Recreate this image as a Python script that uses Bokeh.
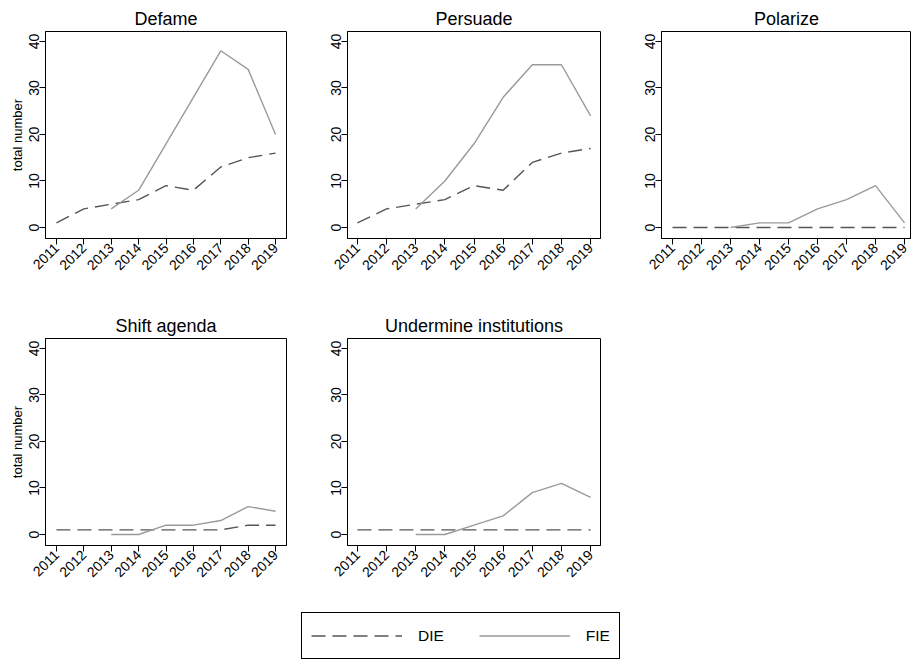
import math
from bokeh.plotting import figure
from bokeh.models import FixedTicker, Range1d, Legend, LegendItem, ColumnDataSource
from bokeh.layouts import column, row
from bokeh.embed import file_html
from bokeh.resources import INLINE

# ---- data ----
years = [2011, 2012, 2013, 2014, 2015, 2016, 2017, 2018, 2019]
fie_years = [2013, 2014, 2015, 2016, 2017, 2018, 2019]

defame_die = [1, 4, 5, 6, 9, 8, 13, 15, 16]
defame_fie = [4, 8, 18, 28, 38, 34, 20]
persuade_die = [1, 4, 5, 6, 9, 8, 14, 16, 17]
persuade_fie = [4, 10, 18, 28, 35, 35, 24]
polarize_die = [0, 0, 0, 0, 0, 0, 0, 0, 0]
polarize_fie = [0, 1, 1, 4, 6, 9, 1]
shift_die = [1, 1, 1, 1, 1, 1, 1, 2, 2]
shift_fie = [0, 0, 2, 2, 3, 6, 5]
undermine_die = [1, 1, 1, 1, 1, 1, 1, 1, 1]
undermine_fie = [0, 0, 2, 4, 9, 11, 8]

y_ticks = [0, 10, 20, 30, 40]
series_labels = ["DIE", "FIE"]

FONT = "Liberation Sans"
DIE_COLOR = "#555555"
FIE_COLOR = "#9a9a9a"
DASH = "14 7"


def panel(title, die, fie, ylabel, bl, fw, br, bb, xr):
    p = figure(frame_width=fw, frame_height=207,
               min_border_left=bl, min_border_right=br,
               min_border_top=31, min_border_bottom=bb,
               x_range=Range1d(*xr), y_range=Range1d(-2.37, 42.15),
               output_backend="svg", toolbar_location=None,
               background_fill_color="white", border_fill_color="white")
    p.title.text = title
    p.title.text_font = FONT
    p.title.text_font_size = "18px"
    p.title.text_font_style = "normal"
    p.title.align = "center"
    p.title.standoff = 5
    p.title.text_color = "black"
    p.grid.visible = False
    p.outline_line_color = "black"
    p.outline_line_alpha = 1
    p.outline_line_width = 1

    p.line(years, die, line_color=DIE_COLOR, line_width=1.4, line_dash=DASH)
    p.line(fie_years, fie, line_color=FIE_COLOR, line_width=1.4)

    xa = p.xaxis[0]
    xa.ticker = FixedTicker(ticks=years)
    xa.major_label_orientation = math.pi / 4
    ya = p.yaxis[0]
    ya.ticker = FixedTicker(ticks=y_ticks)
    ya.major_label_orientation = "parallel"
    for ax in (xa, ya):
        ax.axis_line_color = "black"
        ax.major_tick_line_color = "black"
        ax.major_tick_out = 6
        ax.major_tick_in = 0
        ax.minor_tick_line_color = None
        ax.major_label_text_font = FONT
        ax.major_label_text_font_size = "14px"
        ax.major_label_text_color = "black"
    xa.major_label_standoff = 1
    ya.major_label_standoff = 0
    if ylabel:
        ya.axis_label = ylabel
        ya.axis_label_text_font = FONT
        ya.axis_label_text_font_size = "13px"
        ya.axis_label_text_font_style = "normal"
        ya.axis_label_text_color = "black"
        ya.axis_label_standoff = 2
    return p


f1 = panel("Defame", defame_die, defame_fie, "total number", 45, 241, 30, 69, (2010.6, 2019.4))
f2 = panel("Persuade", persuade_die, persuade_fie, None, 31, 253, 30, 69, (2010.66, 2019.34))
f3 = panel("Polarize", polarize_die, polarize_fie, None, 31, 250, 0, 69, (2010.62, 2019.24))
f4 = panel("Shift agenda", shift_die, shift_fie, "total number", 45, 241, 30, 51, (2010.6, 2019.4))
f5 = panel("Undermine institutions", undermine_die, undermine_fie, None, 31, 253, 30, 51, (2010.66, 2019.34))

# ---- legend strip ----
lg = figure(width=911, height=63, min_border=0, x_range=Range1d(0, 1), y_range=Range1d(0, 1),
            output_backend="svg", toolbar_location=None, x_axis_type=None, y_axis_type=None,
            background_fill_color="white", border_fill_color="white")
lg.outline_line_color = None
lg.grid.visible = False
offscreen = ColumnDataSource(data=dict(x=[5, 6], y=[5, 6]))
r_die = lg.line("x", "y", source=offscreen, line_color=DIE_COLOR, line_width=1.6, line_dash=DASH)
r_fie = lg.line("x", "y", source=offscreen, line_color=FIE_COLOR, line_width=1.6)
legend = Legend(items=[LegendItem(label=series_labels[0], renderers=[r_die]),
                       LegendItem(label=series_labels[1], renderers=[r_fie])],
                orientation="horizontal", location=(301, 0), margin=0, padding=9,
                spacing=35, glyph_width=91, glyph_height=27, label_height=27, label_standoff=16,
                label_text_font=FONT, label_text_font_size="15.5px", label_text_color="black",
                border_line_color="black", border_line_width=1, border_line_alpha=1,
                background_fill_alpha=1)
lg.add_layout(legend)

layout = column(row(f1, f2, f3), row(f4, f5), lg)
open("out.html", "w").write(file_html(layout, INLINE))
